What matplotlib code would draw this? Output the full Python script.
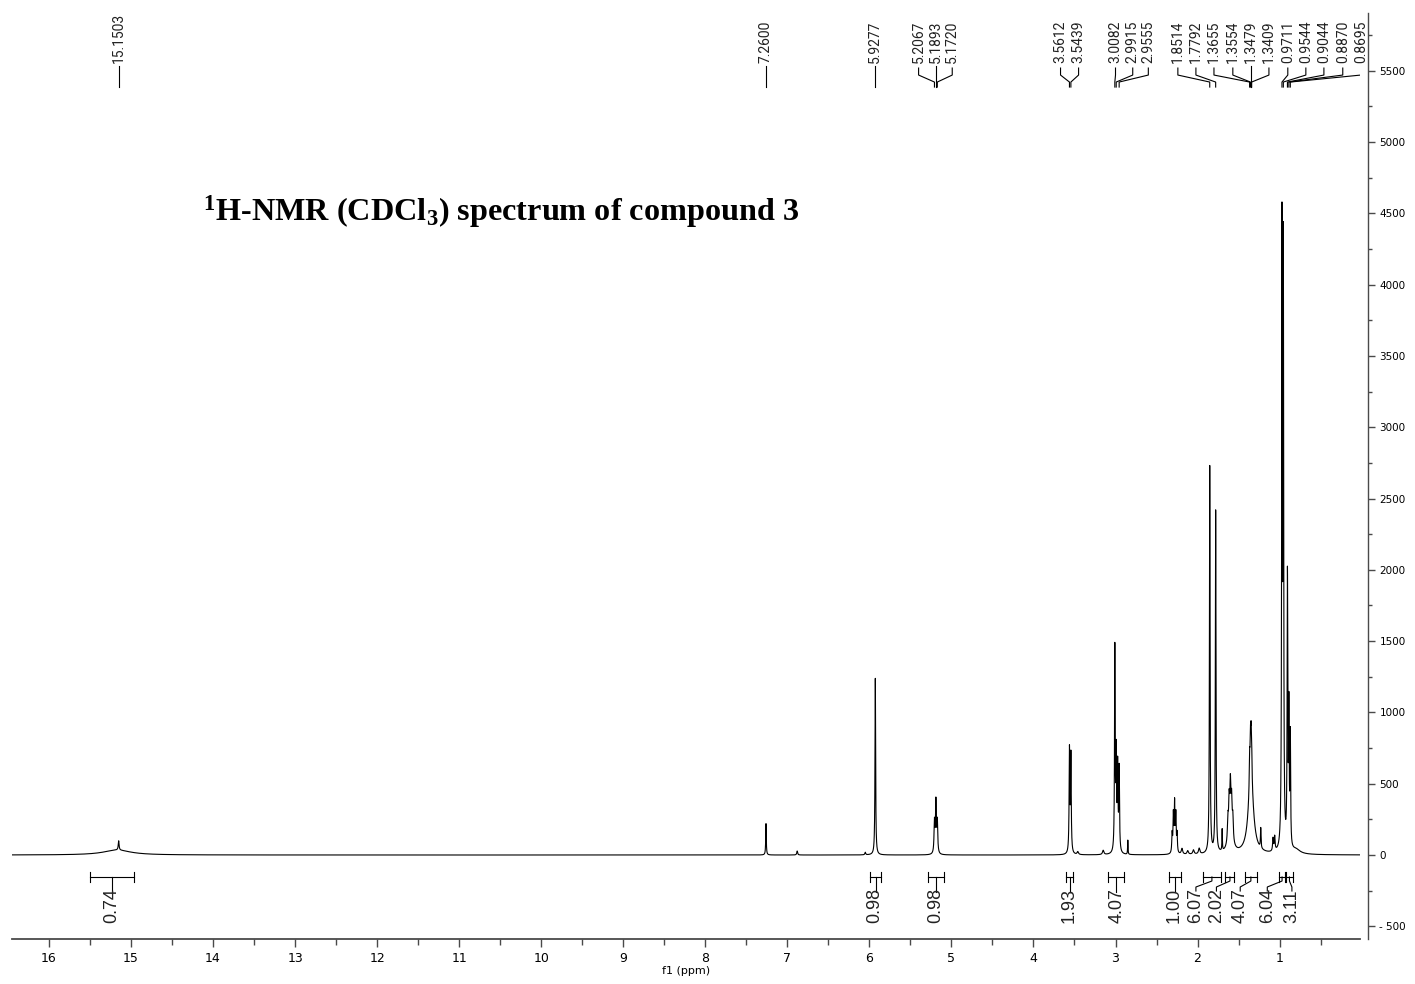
import numpy as np
import matplotlib.pyplot as plt
from matplotlib.ticker import MultipleLocator, FuncFormatter

plt.rcParams['mathtext.fontset'] = 'custom'
plt.rcParams['mathtext.bf'] = 'Liberation Serif:bold'
plt.rcParams['mathtext.rm'] = 'Liberation Serif:bold'
plt.rcParams['mathtext.default'] = 'bf'

# line list: shift (ppm), amplitude, line width (ppm)
peak_ppm = [15.17, 15.15, 7.26, 6.88, 6.05, 5.9277,
            5.2067, 5.1893, 5.1720, 3.46, 3.5612, 3.5439, 3.15,
            3.0082, 2.9915, 2.9740, 2.9555, 2.85,
            2.31, 2.295, 2.28, 2.265, 2.25, 2.19, 2.12, 2.05, 1.98,
            1.8514, 1.7792, 1.70,
            1.60, 1.63, 1.615, 1.60, 1.585, 1.57,
            1.35, 1.3655, 1.3554, 1.3479, 1.3409, 1.23,
            1.08, 1.06, 0.9711, 0.9544, 0.9044, 0.8870, 0.8695, 0.80]
peak_height = [35, 65, 220, 28, 18, 1240,
               220, 360, 220, 20, 720, 680, 30,
               1420, 660, 580, 580, 100,
               130, 260, 340, 260, 130, 40, 25, 30, 40,
               2720, 2400, 150,
               110, 160, 250, 340, 250, 160,
               520, 220, 250, 250, 220, 140,
               90, 100, 4280, 4120, 1890, 936, 776, 30]
peak_width = [0.4, 0.012, 0.008, 0.012, 0.012, 0.009,
              0.012, 0.012, 0.012, 0.02, 0.01, 0.01, 0.02,
              0.009, 0.01, 0.01, 0.01, 0.006,
              0.01, 0.01, 0.01, 0.01, 0.01, 0.02, 0.02, 0.02, 0.02,
              0.009, 0.009, 0.006,
              0.07, 0.014, 0.014, 0.014, 0.014, 0.014,
              0.075, 0.01, 0.01, 0.01, 0.01, 0.008,
              0.012, 0.012, 0.009, 0.009, 0.009, 0.009, 0.009, 0.12]

# picked peaks and where their labels sit along the axis
label_ppm = [15.1503, 7.2600, 5.9277, 5.2067, 5.1893, 5.1720, 3.5612, 3.5439,
             3.0082, 2.9915, 2.9555, 1.8514, 1.7792, 1.3655, 1.3554, 1.3479,
             1.3409, 0.9711, 0.9544, 0.9044, 0.8870, 0.8695]
label_pos = [15.15, 7.26, 5.93, 5.40, 5.19, 4.99, 3.67, 3.45,
             3.00, 2.79, 2.60, 2.24, 2.02, 1.80, 1.57, 1.35,
             1.13, 0.90, 0.68, 0.46, 0.23, 0.01]

# integrals
integral_value = [0.74, 0.98, 0.98, 1.93, 4.07, 1.00, 6.07, 2.02, 4.07, 6.04, 3.11]
integral_from = [15.50, 5.99, 5.28, 3.60, 3.09, 2.35, 1.93, 1.66, 1.42, 1.01, 0.92]
integral_to = [14.96, 5.86, 5.09, 3.52, 2.90, 2.20, 1.72, 1.55, 1.28, 0.93, 0.84]
integral_pos = [15.23, 5.93, 5.19, 3.57, 2.98, 2.29, 2.02, 1.77, 1.48, 1.15, 0.85]


def lorentz_sum(x, centers, heights, widths):
    y = np.zeros_like(x)
    for c, h, w in zip(centers, heights, widths):
        y += h / (1.0 + ((x - c) / (w / 2.0)) ** 2)
    return y


fig = plt.figure(figsize=(14.15, 9.84), dpi=100)
ax = fig.add_axes([12 / 1415, 45 / 984, 1348 / 1415, 926 / 984])

ppm = np.linspace(16.45, 0.02, 40000)
intensity = lorentz_sum(ppm, peak_ppm, peak_height, peak_width)
ax.plot(ppm, intensity, color='black', lw=0.8)

ax.set_xlim(16.45, 0.02)
ax.set_ylim(-589, 5905)

spine_col = '#4a4a4a'
for side in ('top', 'left'):
    ax.spines[side].set_visible(False)
ax.spines['bottom'].set_color(spine_col)
ax.spines['bottom'].set_linewidth(1.3)
ax.spines['right'].set_color(spine_col)
ax.spines['right'].set_linewidth(1.0)
ax.spines['right'].set_position(('outward', 6))

ax.xaxis.set_major_locator(MultipleLocator(1))
ax.xaxis.set_minor_locator(MultipleLocator(0.5))
ax.xaxis.set_major_formatter(FuncFormatter(lambda v, p: f'{int(round(v))}'))
ax.tick_params(axis='x', which='major', length=6, width=1.0, color=spine_col,
               labelsize=9, pad=3)
ax.tick_params(axis='x', which='minor', length=4, width=1.0, color=spine_col)
ax.set_xlabel('f1 (ppm)', fontsize=8, labelpad=1)

ax.yaxis.tick_right()
ax.yaxis.set_major_locator(MultipleLocator(500))
ax.yaxis.set_minor_locator(MultipleLocator(250))
ax.yaxis.set_major_formatter(
    FuncFormatter(lambda v, p: f'- {abs(int(v))}' if v < 0 else f'{int(v)}'))
ax.tick_params(axis='y', which='major', length=5, width=1.0, color=spine_col,
               labelsize=7.5, pad=3)
ax.tick_params(axis='y', which='minor', length=3, width=1.0, color=spine_col)

# peak labels with leader lines
px = 500 / 71.3  # intensity units per pixel


def ypx(y):
    return (855 - y) * px


for val, pos in zip(label_ppm, label_pos):
    ax.text(pos, ypx(63), f'{val:.4f}', rotation=90, ha='center', va='bottom',
            fontsize=10, family=['Roboto', 'DejaVu Sans'], color='#222222')
    if abs(pos - round(val, 2)) < 0.005:
        ax.plot([pos, pos], [ypx(66), ypx(87)], color='black', lw=0.8)
    else:
        ax.plot([pos, pos, val, val],
                [ypx(68), ypx(75), ypx(82), ypx(87)], color='black', lw=0.8)

# integrals below the baseline
for val, a, b, pos in zip(integral_value, integral_from, integral_to, integral_pos):
    mid = (a + b) / 2
    ax.plot([a, b], [ypx(877), ypx(877)], color='black', lw=0.8)
    for e in (a, b):
        ax.plot([e, e], [ypx(872), ypx(882)], color='black', lw=0.8)
    if abs(pos - mid) < 0.03:
        ax.plot([mid, mid], [ypx(877), ypx(892)], color='black', lw=0.8)
    else:
        ax.plot([mid, mid, pos, pos],
                [ypx(877), ypx(881), ypx(887), ypx(891)], color='black', lw=0.8)
    ax.text(pos, ypx(923), f'{val:.2f}', rotation=90, ha='center', va='bottom',
            fontsize=13, family=['Liberation Sans', 'DejaVu Sans'], color='#222222')

fig.text(203 / 1415, 1 - 221 / 984,
         r'$^{1}$H-NMR (CDCl$_{3}$) spectrum of compound 3',
         fontsize=23.2, family='Liberation Serif', weight='bold',
         ha='left', va='baseline')

fig.savefig('out.png', dpi=100)
